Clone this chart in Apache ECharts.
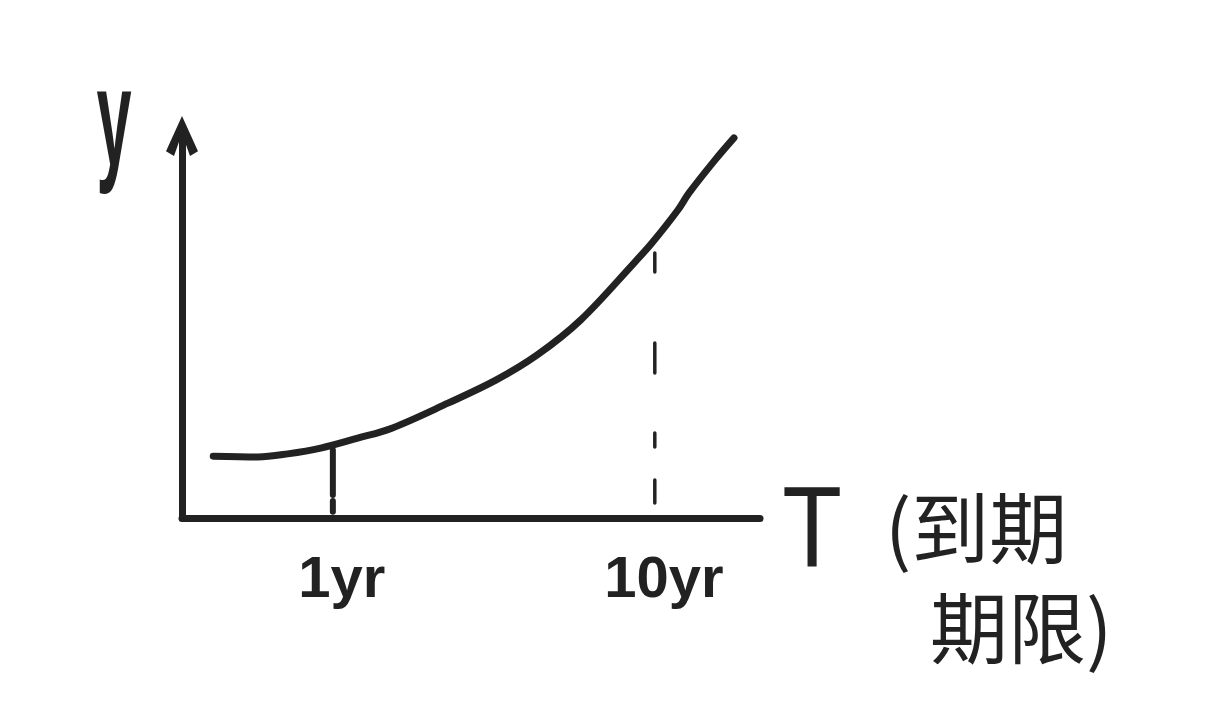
<!DOCTYPE html>
<html>
<head>
<meta charset="utf-8">
<script src="https://cdn.jsdelivr.net/npm/echarts@6/dist/echarts.min.js"></script>
<style>
  html, body { margin: 0; padding: 0; background: #ffffff; }
  #chart { width: 1219px; height: 714px; }
</style>
</head>
<body>
<div id="chart"></div>
<script>
// Sketch of a yield curve: y vs maturity T (arbitrary 0-100 units on both axes)
const curveT = [5.4, 13.1, 18.3, 24.0, 30.4, 36.3, 46.0, 54.3, 61.4, 69.0, 78.2, 81.3, 85.8, 87.7, 92.2, 95.5];
const curveY = [16.1, 15.9, 16.7, 18.2, 20.8, 23.4, 29.9, 35.9, 42.4, 51.6, 66.4, 71.6, 80.2, 84.6, 93.2, 99.0];
const tickValues = [26.1, 81.8];
const tickLabels = ['1yr', '10yr'];
const guideTop = [17.7, 69.0];
const guideBottom = [1.6, 3.9];
const xName = 'T';
const xNameZh = ['(到期', '期限)'];
const yName = 'y';

const ink = '#222222';
const chart = echarts.init(document.getElementById('chart'), null, { renderer: 'canvas' });

const curveData = curveT.map((t, i) => [t, curveY[i]]);

const option = {
  backgroundColor: '#ffffff',
  animation: false,
  grid: { left: 182, right: 459, top: 134, bottom: 196, containLabel: false },
  xAxis: {
    type: 'value', min: 0, max: 100,
    axisLine: { show: true, onZero: false, lineStyle: { color: ink, width: 7, cap: 'round' } },
    axisTick: { show: false },
    splitLine: { show: false },
    axisLabel: {
      show: true,
      customValues: tickValues,
      formatter: (v) => { const i = tickValues.indexOf(v); return i >= 0 ? tickLabels[i] : ''; },
      color: ink, fontSize: 58, fontWeight: 'bold', fontFamily: 'Liberation Sans',
      margin: 34, padding: [0, 0, 0, 18]
    }
  },
  yAxis: {
    type: 'value', min: 0, max: 100,
    axisLine: {
      show: true, onZero: false,
      lineStyle: { color: ink, width: 7, cap: 'round' },
      symbol: ['none', 'path://M0,22 L10,0 L20,22 L15,25 L10,11 L5,25 Z'],
      symbolSize: [34, 40],
      symbolOffset: [0, -2]
    },
    axisTick: { show: false },
    splitLine: { show: false },
    axisLabel: { show: false }
  },
  series: [
    {
      type: 'line', data: curveData, smooth: 0.35, showSymbol: false,
      lineStyle: { color: ink, width: 7, cap: 'round', join: 'round' }, z: 3
    },
    {
      type: 'line', showSymbol: false,
      data: [[tickValues[0], guideTop[0]], [tickValues[0], guideBottom[0]]],
      lineStyle: { color: ink, width: 6, cap: 'round', type: [45, 6, 12, 10] }, z: 2
    },
    {
      type: 'line', showSymbol: false,
      data: [[tickValues[1], guideTop[1]], [tickValues[1], guideBottom[1]]],
      lineStyle: { color: ink, width: 3.5, cap: 'round', type: [19, 71, 30, 60, 14, 33, 23, 10] }, z: 2
    }
  ],
  graphic: [
    {
      type: 'text', x: 114, y: 126, scaleX: 0.45, scaleY: 1,
      style: { text: yName, fill: ink, font: 'bold 140px "Liberation Sans"', align: 'center', verticalAlign: 'middle' }
    },
    {
      type: 'text', x: 812, y: 535, scaleX: 0.85,
      style: { text: xName, fill: ink, font: '115px "Liberation Sans"', align: 'center', verticalAlign: 'middle' }
    },
    {
      type: 'text', x: 885, y: 528,
      style: { text: xNameZh[0], fill: ink, font: '78px "Noto Sans CJK SC"', align: 'left', verticalAlign: 'middle' }
    },
    {
      type: 'text', x: 930, y: 628,
      style: { text: xNameZh[1], fill: ink, font: '78px "Noto Sans CJK SC"', align: 'left', verticalAlign: 'middle' }
    }
  ]
};
chart.setOption(option);
</script>
</body>
</html>
